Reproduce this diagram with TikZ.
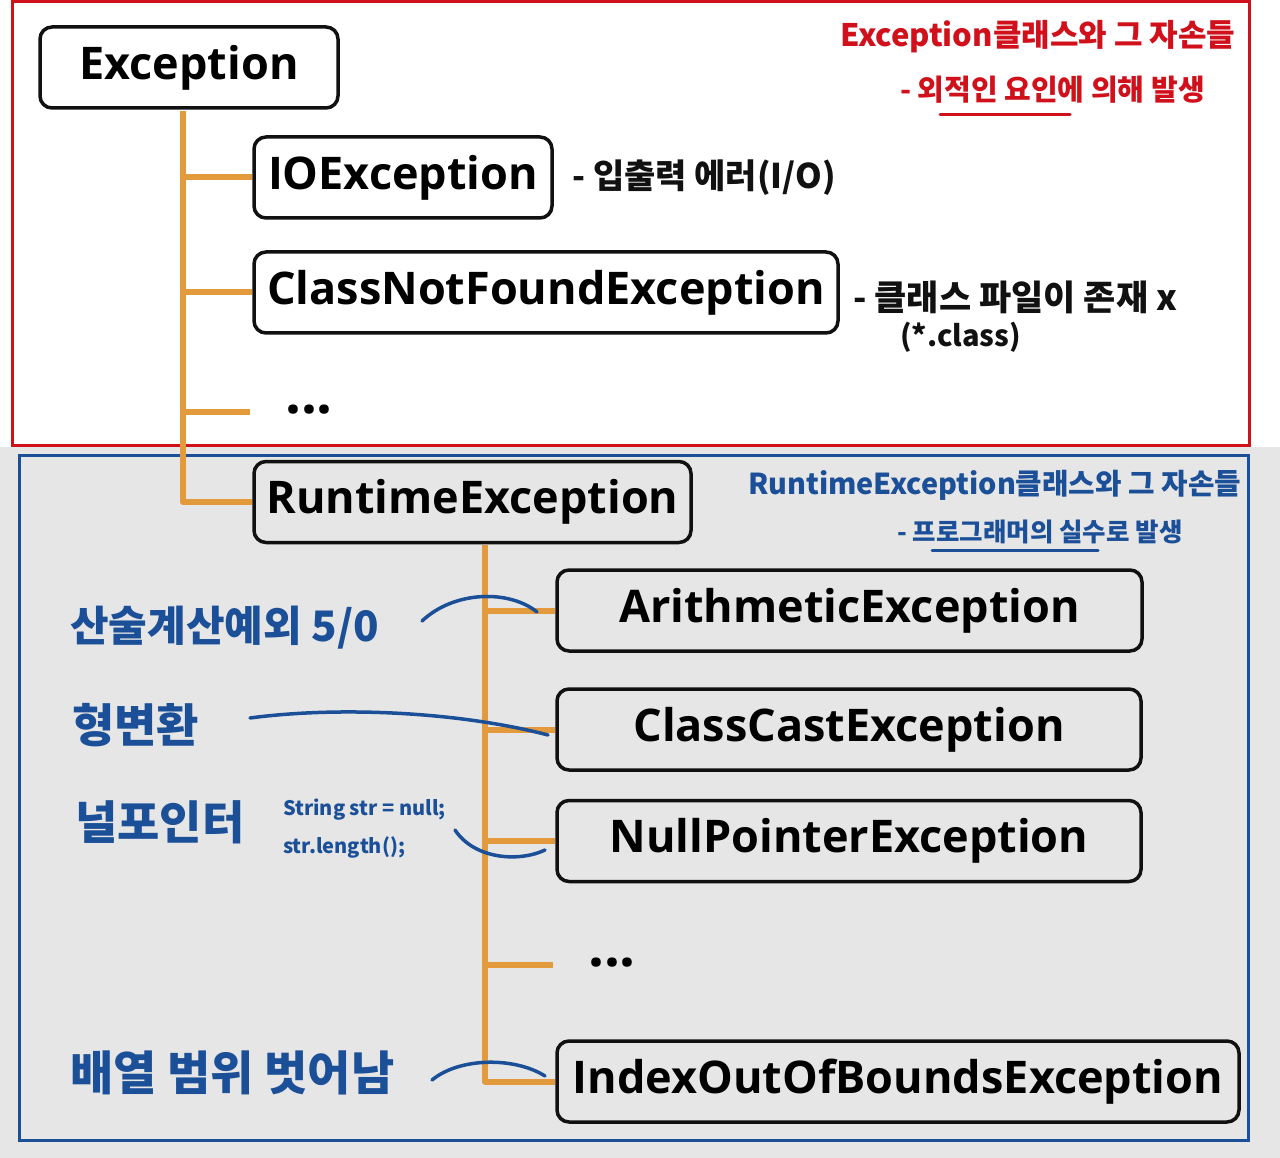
\documentclass[tikz,border=0pt]{standalone}
\usepackage{fontspec}
\setmainfont{Open Sans}
\newfontfamily\kor{Noto Sans CJK KR}
\usetikzlibrary{positioning}
\definecolor{naranjaT}{HTML}{E39A3C}
\definecolor{rojoM}{HTML}{D0111B}
\definecolor{azulM}{HTML}{1B4F98}
\definecolor{grisF}{HTML}{E6E6E6}
\definecolor{negroP}{HTML}{111111}
\tikzset{
  caja/.style={draw=negroP,line width=3.5pt,rounded corners=12pt,inner sep=0pt,
    minimum height=81pt,font=\bfseries\fontsize{45}{54}\selectfont},
  rama/.style={naranjaT,line width=6pt,line join=round},
  trazo/.style={azulM,line width=3.5pt,line cap=round},
  nota/.style={anchor=west,inner sep=0pt,font=\kor\bfseries\fontsize{#1}{#1}\selectfont},
  puntos/.style={inner sep=0pt,font=\fontsize{56}{60}\selectfont\bfseries}
}

\begin{document}
\begin{tikzpicture}[x=1pt,y=-1pt]
  \useasboundingbox (0,0) rectangle (1280,1158);
  \fill[white] (0,0) rectangle (1280,447);
  \fill[grisF] (0,447) rectangle (1280,1158);
  \draw[rojoM,line width=3pt] (12,2) rectangle (1249,445);
  \draw[azulM,line width=3pt] (19,455) rectangle (1248,1140);
  % boxes
  \node[caja,minimum width=298pt] (exc) at (189,67.5) {Exception};
  \node[caja,minimum width=298pt] (io) at (403,177.5) {IOException};
  \node[caja,minimum width=584pt] (cnf) at (546,292.5) {ClassNotFoundException};
  \node[puntos] (dots1) at (309,410) {...};
  \node[caja,minimum width=437pt] (rte) at (472.5,502) {RuntimeException};
  \node[caja,minimum width=585pt] (arit) at (849.5,610.5) {ArithmeticException};
  \node[caja,minimum width=584pt] (cast) at (849,729.5) {ClassCastException};
  \node[caja,minimum width=584pt] (npe) at (849,841) {NullPointerException};
  \node[puntos] (dots2) at (612,963) {...};
  \node[caja,minimum width=682pt] (ioob) at (898,1081.5) {IndexOutOfBoundsException};
  % tree
  \coordinate (t1) at (183,111);
  \coordinate (d1) at (250,412);
  \draw[rama] (t1) |- (rte.west);
  \foreach \n in {io,cnf} \draw[rama] (t1 |- \n.west) -- (\n.west);
  \draw[rama] (t1 |- d1) -- (d1);
  \coordinate (t2) at (485,545);
  \coordinate (d2) at (553,965);
  \draw[rama] (t2) |- (ioob.west);
  \foreach \n in {arit,cast,npe} \draw[rama] (t2 |- \n.west) -- (\n.west);
  \draw[rama] (t2 |- d2) -- (d2);
  % notes
  \node[nota=31,text=rojoM] (tit1) at (840,37) {Exception클래스와 그 자손들};
  \node[nota=29,text=rojoM] (sub1) at (900,90) {- 외적인 요인에 의해 발생};
  \draw[rojoM,line width=3pt,line cap=round] (940,115) -- (1070,115);
  \node[nota=34,text=negroP] (io-n) at (572,178) {- 입출력 에러(I/O)};
  \node[nota=35,text=negroP] (cnf-n) at (853,297) {- 클래스 파일이 존재 x};
  \node[nota=29,text=negroP] (cnf-m) at (900,337) {(*.class)};
  \node[nota=28.8,text=azulM] (tit2) at (748,485) {RuntimeException클래스와 그 자손들};
  \node[nota=25.5,text=azulM] (sub2) at (897,532) {- 프로그래머의 실수로 발생};
  \draw[trazo,line width=3pt] (932,550) -- (1098,550);
  \node[nota=42,text=azulM] (arit-n) at (70,628) {산술계산예외 5/0};
  \node[nota=46,text=azulM] (cast-n) at (72,725) {형변환};
  \node[nota=46,text=azulM] (npe-n) at (75,822) {널포인터};
  \node[nota=20,text=azulM] (npe-a) at (283,810) {String str = null;};
  \node[nota=20,text=azulM] (npe-b) at (283,847) {str.length();};
  \node[nota=47,text=azulM] (ioob-n) at (70,1073) {배열 범위 벗어남};
  % hand strokes
  \draw[trazo] (422,621) .. controls (455,590) and (510,590) .. (537,612);
  \draw[trazo] (250,718) .. controls (340,706) and (460,712) .. (548,735);
  \draw[trazo] (455,830) .. controls (475,860) and (520,862) .. (545,850);
  \draw[trazo] (432,1080) .. controls (460,1057) and (515,1057) .. (545,1076);
\end{tikzpicture}
\end{document}
